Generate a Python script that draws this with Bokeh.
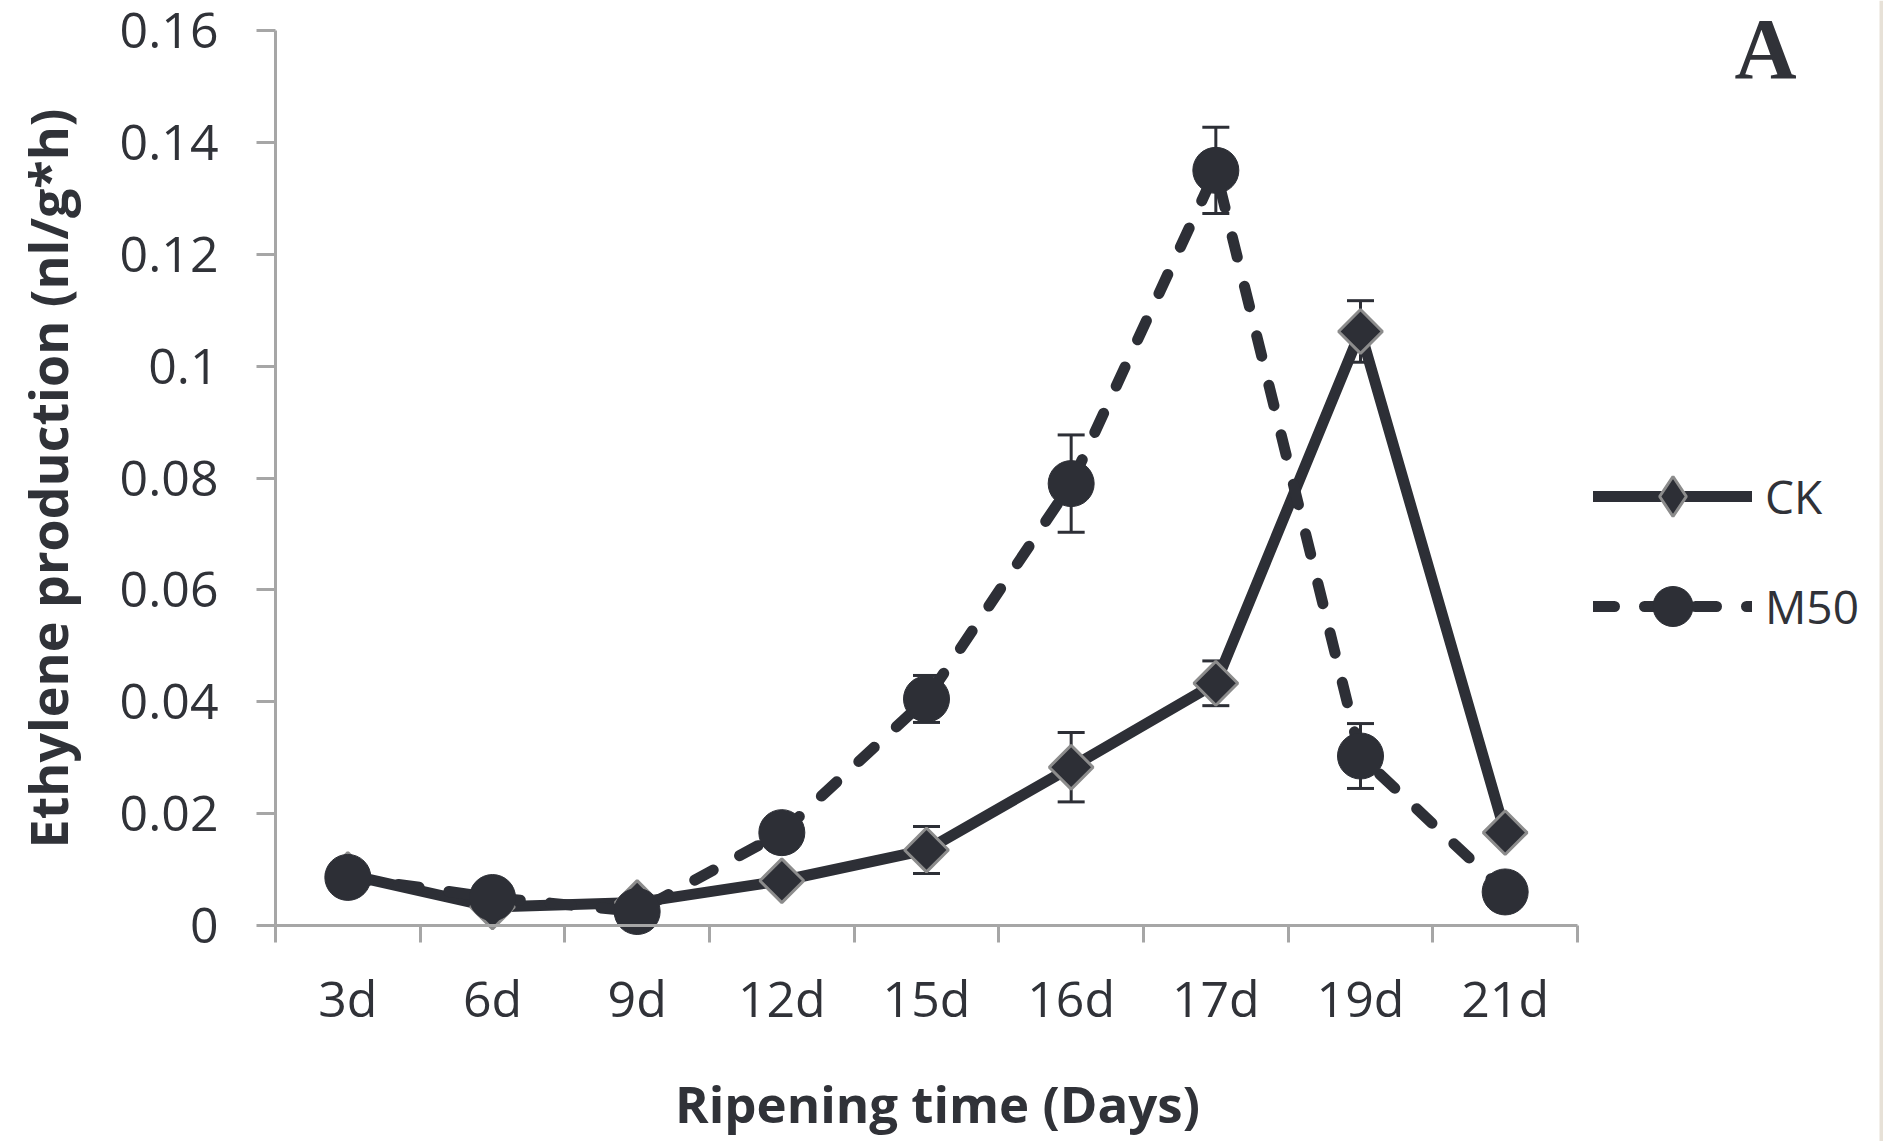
import math
from bokeh.plotting import figure
from bokeh.models import (FixedTicker, Legend, LegendItem, Label, Whisker, BoxAnnotation,
                          ColumnDataSource, Range1d, TeeHead)
from bokeh.embed import file_html
from bokeh.resources import INLINE

# ---- data ----
days = ["3d", "6d", "9d", "12d", "15d", "16d", "17d", "19d", "21d"]
ck = [0.0091, 0.0033, 0.0041, 0.0080, 0.0135, 0.0283, 0.0433, 0.1062, 0.0166]
ck_err = [0.0008, 0.0006, 0.0006, 0.0010, 0.0042, 0.0062, 0.0040, 0.0055, 0.0010]
m50 = [0.0086, 0.0050, 0.0025, 0.0166, 0.0405, 0.0790, 0.1350, 0.0303, 0.0060]
m50_err = [0.0010, 0.0010, 0.0005, 0.0015, 0.0042, 0.0087, 0.0077, 0.0058, 0.0007]
y_ticks = [0.0, 0.02, 0.04, 0.06, 0.08, 0.10, 0.12, 0.14, 0.16]
y_tick_labels = ["0", "0.02", "0.04", "0.06", "0.08", "0.1", "0.12", "0.14", "0.16"]
series_names = ["CK", "M50"]
x_title = "Ripening time (Days)"
y_title = "Ethylene production (nl/g*h)"
panel_letter = "A"

# ---- styles / layout (pixels) ----
DARK = "#2d2f36"
GRAY = "#a6a6a6"
TEXT = "#303238"
FONT = "Open Sans"
W, H = 1883, 1141
X0_PX, Y0_PX = 275, 925            # where the y axis and the x axis sit
AXIS_W_PX, AXIS_H_PX = 1302, 895   # length of the drawn axes

n = len(days)
xs = [i + 0.5 for i in range(n)]
ppx = AXIS_W_PX / n                 # pixels per category
ppy = AXIS_H_PX / y_ticks[-1]       # pixels per unit of y


def dx(px):  # canvas x pixel -> data x
    return (px - X0_PX) / ppx


def dy(py):  # canvas y pixel (from top) -> data y
    return (Y0_PX - py) / ppy


src = ColumnDataSource(dict(
    x=xs, ck=ck, m50=m50,
    ck_lo=[v - e for v, e in zip(ck, ck_err)], ck_hi=[v + e for v, e in zip(ck, ck_err)],
    m_lo=[v - e for v, e in zip(m50, m50_err)], m_hi=[v + e for v, e in zip(m50, m50_err)],
))

p = figure(width=W, height=H, x_range=Range1d(dx(0), dx(W)), y_range=Range1d(dy(H), dy(0)),
           output_backend="svg", toolbar_location=None,
           min_border_left=0, min_border_right=0, min_border_top=0, min_border_bottom=0)
p.xgrid.visible = False
p.ygrid.visible = False
p.outline_line_color = None
p.background_fill_color = "white"
p.border_fill_color = "white"

# thin page edge at the right of the picture
p.add_layout(BoxAnnotation(left=dx(1879), right=dx(W + 5), fill_color="#e7e1d7", fill_alpha=1,
                           line_color=None, level="underlay"))

# y axis (fixed at x = 0 inside the frame)
ya = p.yaxis[0]
ya.fixed_location = 0
ya.bounds = (y_ticks[0], y_ticks[-1])
ya.ticker = FixedTicker(ticks=y_ticks, minor_ticks=[])
ya.major_label_overrides = dict(zip(y_ticks, y_tick_labels))
ya.axis_line_color = GRAY
ya.axis_line_width = 3
ya.major_tick_line_color = GRAY
ya.major_tick_line_width = 3
ya.major_tick_out = 19
ya.major_tick_in = 0
ya.major_label_standoff = 38
ya.major_label_text_font = FONT
ya.major_label_text_font_size = "50px"
ya.major_label_text_color = TEXT

# x axis (fixed at y = 0 inside the frame)
xa = p.xaxis[0]
xa.fixed_location = 0
xa.bounds = (0, n)
xa.ticker = FixedTicker(ticks=xs, minor_ticks=list(range(n + 1)))
xa.major_label_overrides = dict(zip(xs, days))
xa.axis_line_color = GRAY
xa.axis_line_width = 3
xa.major_tick_out = 0
xa.major_tick_in = 0
xa.major_tick_line_color = None
xa.minor_tick_line_color = GRAY
xa.minor_tick_line_width = 3
xa.minor_tick_out = 17
xa.minor_tick_in = 0
xa.major_label_standoff = 21
xa.major_label_text_font = FONT
xa.major_label_text_font_size = "50px"
xa.major_label_text_color = TEXT

# axis titles
p.add_layout(Label(x=dx(937), y=dy(1102), text=x_title, text_font=FONT,
                   text_font_size="51px", text_font_style="bold", text_color=TEXT,
                   text_align="center", text_baseline="middle"))
p.add_layout(Label(x=dx(47), y=dy(478), text=y_title, angle=math.pi / 2, text_font=FONT,
                   text_font_size="52px", text_font_style="bold", text_color=TEXT,
                   text_align="center", text_baseline="middle"))

# error bars
for lo, hi in (("ck_lo", "ck_hi"), ("m_lo", "m_hi")):
    w = Whisker(source=src, base="x", lower=lo, upper=hi, line_color=DARK, line_width=3,
                upper_head=TeeHead(size=27, line_color=DARK, line_width=3),
                lower_head=TeeHead(size=27, line_color=DARK, line_width=3),
                level="underlay")
    p.add_layout(w)

# legend key for CK: legend keys are drawn unrotated, so a diamond key is used;
# in the plot it sits hidden beneath the rotated-square markers
r_ck_key = p.scatter("x", "ck", source=src, marker="diamond", size=40, fill_color=DARK,
                     line_color="#8c8c8c", line_width=3, level="underlay")

# CK series
r_ck_l = p.line("x", "ck", source=src, line_color=DARK, line_width=11, line_join="round", line_cap="round")
r_ck_m = p.scatter("x", "ck", source=src, marker="square", angle=math.pi / 4, size=31,
                   fill_color=DARK, line_color="#8c8c8c", line_width=3)
# M50 series
r_m_l = p.line("x", "m50", source=src, line_color=DARK, line_width=11, line_dash="21 30",
               line_cap="round", line_join="round")
r_m_m = p.scatter("x", "m50", source=src, marker="circle", size=46,
                  fill_color=DARK, line_color=DARK, line_width=1)

legend = Legend(items=[LegendItem(label=series_names[0], renderers=[r_ck_l, r_ck_key]),
                       LegendItem(label=series_names[1], renderers=[r_m_l, r_m_m])],
                location=(1593, H - 656), orientation="vertical",
                glyph_width=159, glyph_height=100, spacing=10, label_standoff=13,
                padding=0, margin=0, border_line_color=None, background_fill_alpha=0,
                label_text_font=FONT, label_text_font_size="46px", label_text_color=TEXT)
p.add_layout(legend)

p.add_layout(Label(x=dx(1765), y=dy(48), text=panel_letter, text_font="Liberation Serif",
                   text_font_size="86px", text_font_style="bold", text_color=TEXT,
                   text_align="center", text_baseline="alphabetic"))

open("out.html", "w").write(file_html(p, INLINE))
